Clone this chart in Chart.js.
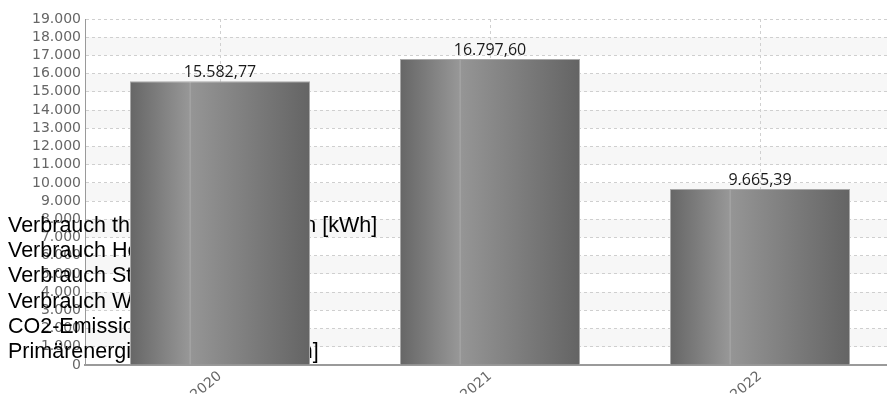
<!DOCTYPE html>
<html>
<head>
<meta charset="utf-8">
<script src="https://cdn.jsdelivr.net/npm/chart.js@4/dist/chart.umd.min.js"></script>
<style>
  html, body { margin: 0; padding: 0; background: #ffffff; overflow: hidden; }
  #wrap { position: relative; width: 900px; height: 394px; }
</style>
</head>
<body>
<div id="wrap"><canvas id="c"></canvas></div>
<script>
// ---- data ----
const categories = ['2020', '2021', '2022'];
const values = [15582.77, 16797.60, 9665.39];
const yMin = 0;
const yMax = 19000;
const yStep = 1000;
const legendLabels = [
  'Verbrauch thermischer Energien [kWh]',
  'Verbrauch Heizung [kWh]',
  'Verbrauch Strom [kWh]',
  'Verbrauch Wasser [m³]',
  'CO2-Emissionen [t]',
  'Primärenergiebedarf netto [kWh]'
];

// German number formatting
function fmtDE(n, dec) {
  const fixed = n.toFixed(dec);
  const parts = fixed.split('.');
  const intPart = parts[0].replace(/\B(?=(\d{3})+(?!\d))/g, '.');
  return dec > 0 ? intPart + ',' + parts[1] : intPart;
}

const BAR_FRAC = 2 / 3;

function barGradient(context) {
  const chart = context.chart;
  const xs = chart.scales && chart.scales.x;
  if (!xs || !chart.chartArea) return '#808080';
  const cx = xs.getPixelForValue(context.dataIndex);
  const w = (xs.width / categories.length) * BAR_FRAC;
  const x0 = cx - w / 2, x1 = cx + w / 2;
  const g = chart.ctx.createLinearGradient(x0, 0, x1, 0);
  g.addColorStop(0, '#666666');
  g.addColorStop(0.33, '#979797');
  g.addColorStop(0.331, '#a2a2a2');
  g.addColorStop(0.338, '#a2a2a2');
  g.addColorStop(0.34, '#959595');
  g.addColorStop(1, '#646464');
  return g;
}

const bandsPlugin = {
  id: 'bands',
  beforeDraw(chart) {
    const { ctx, chartArea: a, scales: { y } } = chart;
    ctx.save();
    for (let v = yMin; v < yMax; v += yStep) {
      if (((v - yMin) / yStep) % 2 === 1) {
        const top = y.getPixelForValue(v + yStep);
        const bot = y.getPixelForValue(v);
        ctx.fillStyle = '#f7f7f7';
        ctx.fillRect(a.left, top, a.right - a.left, bot - top);
      }
    }
    ctx.restore();
  }
};

const legendTextPlugin = {
  id: 'legendText',
  beforeDatasetsDraw(chart) {
    const ctx = chart.ctx;
    ctx.save();
    ctx.font = '21.5px "Liberation Sans", Arial, sans-serif';
    ctx.fillStyle = '#000000';
    ctx.textAlign = 'left';
    ctx.textBaseline = 'alphabetic';
    legendLabels.forEach((t, i) => {
      ctx.fillText(t, 8, 232 + i * 25.2);
    });
    ctx.restore();
  }
};

const valueLabelPlugin = {
  id: 'valueLabels',
  afterDatasetsDraw(chart) {
    const ctx = chart.ctx;
    const meta = chart.getDatasetMeta(0);
    ctx.save();
    ctx.font = '16px "Open Sans", sans-serif';
    ctx.fillStyle = '#1a1a1a';
    ctx.textAlign = 'center';
    ctx.textBaseline = 'alphabetic';
    meta.data.forEach((bar, i) => {
      ctx.fillText(fmtDE(values[i], 2), bar.x, bar.y - 4);
    });
    ctx.restore();
  }
};

new Chart(document.getElementById('c'), {
  type: 'bar',
  data: {
    labels: categories,
    datasets: [{
      data: values,
      backgroundColor: barGradient,
      borderColor: '#a8a8a8',
      borderWidth: 1,
      borderSkipped: 'bottom',
      categoryPercentage: 1,
      barPercentage: BAR_FRAC
    }]
  },
  options: {
    responsive: true,
    maintainAspectRatio: false,
    animation: false,
    layout: { padding: { top: 19, right: 5, left: 0, bottom: 0 } },
    plugins: { legend: { display: false }, tooltip: { enabled: false } },
    scales: {
      x: {
        offset: true,
        grid: { offset: false, color: '#d0d0d0', lineWidth: 1, drawTicks: false },
        border: { display: true, color: '#9a9a9a', width: 2, dash: [3, 3] },
        ticks: {
          color: '#666666',
          font: { family: '"DejaVu Sans"', size: 14 },
          minRotation: 40,
          maxRotation: 40,
          autoSkip: false,
          padding: 3
        },
        afterFit(scale) { scale.height = 29; }
      },
      y: {
        min: yMin,
        max: yMax,
        grid: { color: '#cfcfcf', lineWidth: 1, drawTicks: false },
        border: { display: true, color: '#9a9a9a', width: 1, dash: [3, 3] },
        ticks: {
          stepSize: yStep,
          autoSkip: false,
          color: '#666666',
          font: { family: '"DejaVu Sans"', size: 14 },
          padding: 4,
          callback: (v) => fmtDE(v, 0)
        },
        afterFit(scale) { scale.width = 85; }
      }
    }
  },
  plugins: [bandsPlugin, legendTextPlugin, valueLabelPlugin]
});
</script>
</body>
</html>
